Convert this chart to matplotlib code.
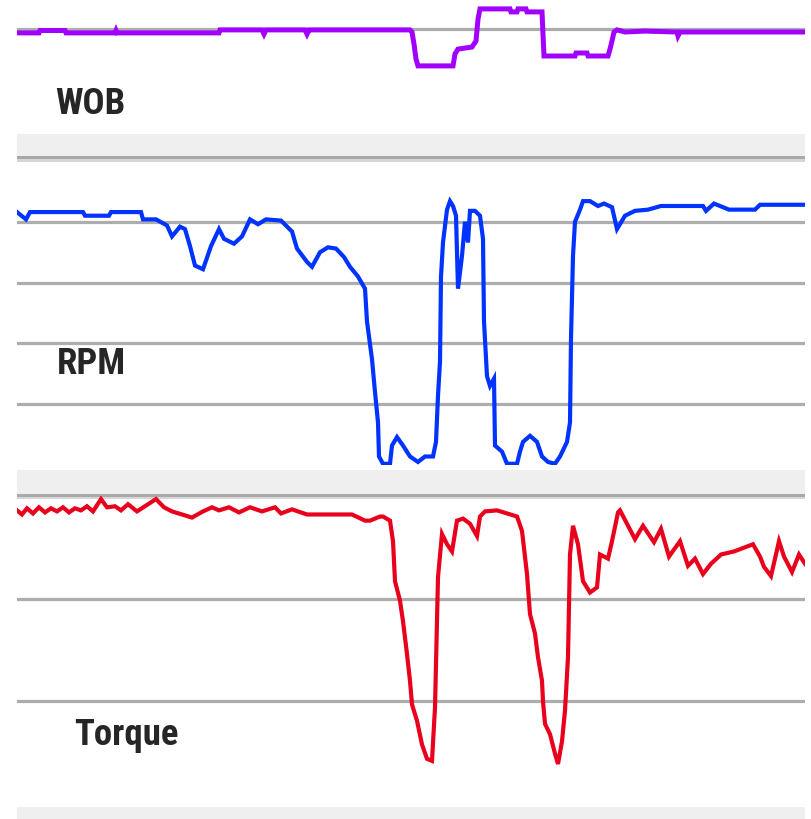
import matplotlib
matplotlib.use("Agg")
import matplotlib.pyplot as plt
from matplotlib.patches import Rectangle

# ---------------- data ----------------
panel_labels = ["WOB", "RPM", "Torque"]

# time in seconds
wob_t = [0, 22, 23, 48, 49, 50, 98, 99, 100, 202, 203, 245, 247, 249, 253, 288, 290, 292, 294,
         393, 395, 397, 399, 401, 436, 438, 441, 455, 459, 461, 463, 493, 494, 500, 501, 509, 510,
         525, 527, 558, 559, 570, 571, 591, 593, 595, 597, 600, 608, 628, 660, 661, 663, 788]
wob_v = [33.7, 33.7, 34.5, 34.5, 33.7, 33.7, 33.7, 34.5, 33.7, 33.7, 34.7, 34.7, 33.3, 34.7, 34.7,
         34.7, 33.3, 34.7, 34.7, 34.7, 34.0, 30.0, 25.0, 22.7, 22.7, 26.7, 28.3, 29.0, 31.0, 38.3,
         41.7, 41.7, 40.7, 40.7, 41.7, 41.7, 40.7, 40.7, 26.0, 26.0, 27.0, 27.0, 26.0, 26.0, 28.3,
         31.0, 34.0, 34.7, 34.0, 34.3, 34.0, 32.7, 34.0, 34.0]

rpm_t = [0, 9, 13, 66, 68, 92, 94, 124, 126, 139, 150, 155, 163, 168, 173, 178, 186, 194, 202, 207,
         217, 225, 233, 241, 249, 264, 275, 280, 290, 295, 303, 311, 319, 327, 333, 341, 348, 350,
         355, 358, 361, 362, 366, 373, 375, 380, 386, 393, 401, 408, 416, 419, 421, 423, 424, 426,
         430, 433, 436, 439, 441, 445, 448, 451, 453, 458, 463, 466, 467, 470, 473, 477, 478, 485,
         490, 500, 503, 506, 513, 520, 525, 531, 538, 543, 550, 553, 554, 556, 558, 563, 566, 573,
         581, 587, 595, 600, 608, 618, 631, 644, 686, 689, 697, 712, 738, 743, 788]
rpm_v = [208, 202, 208, 208, 205, 205, 208, 208, 202, 202, 197, 188, 196, 194, 180, 164, 161, 180,
         194, 186, 182, 188, 202, 198, 202, 201, 192, 178, 167, 163, 175, 179, 178, 171, 163, 155,
         145, 118, 87, 60, 35, 7, 1, 1, 16, 23, 16, 7, 2.5, 7, 7, 19, 57, 85, 155, 183, 210, 217,
         213, 205, 145, 172, 200, 183, 209, 209, 205, 186, 118, 73, 65, 71, 16, 11, 1, 1, 11, 19,
         24, 19, 7, 2.5, 1, 7, 19, 35, 104, 172, 200, 210, 217, 217, 213, 215, 212, 194, 205, 209,
         210, 213, 213, 209, 215, 210, 210, 214, 214]

tq_t = [0, 5, 10, 16, 22, 28, 34, 40, 46, 52, 58, 64, 70, 76, 84, 90, 98, 104, 111, 120, 139, 147,
        155, 165, 175, 186, 195, 202, 212, 222, 233, 245, 258, 264, 275, 290, 306, 320, 335, 348,
        353, 363, 366, 373, 376, 378, 383, 386, 390, 393, 395, 400, 405, 410, 415, 418, 421, 425,
        430, 435, 440, 446, 453, 460, 463, 468, 480, 500, 505, 510, 513, 518, 521, 525, 526, 528,
        533, 538, 541, 545, 548, 551, 553, 556, 561, 566, 573, 580, 583, 591, 595, 601, 603, 618,
        626, 637, 644, 652, 663, 671, 678, 686, 694, 704, 717, 736, 743, 747, 754, 762, 767, 775,
        782, 788]
tq_v = [28.6, 28.2, 28.8, 28.3, 28.9, 28.4, 28.8, 28.5, 28.9, 28.4, 28.8, 28.6, 29.0, 28.5, 29.7,
        28.9, 29.0, 28.6, 29.2, 28.5, 29.7, 28.9, 28.5, 28.2, 27.9, 28.5, 28.9, 28.6, 28.9, 28.4,
        28.9, 28.5, 28.9, 28.3, 28.7, 28.2, 28.2, 28.2, 28.2, 27.6, 27.6, 28.0, 28.0, 27.6, 25.6,
        21.7, 19.8, 17.8, 14.6, 12.0, 9.7, 8.1, 5.8, 4.4, 4.2, 9.4, 22.1, 26.3, 25.3, 24.6, 27.6,
        27.8, 27.3, 26.1, 28.0, 28.5, 28.6, 28.0, 26.6, 22.4, 18.5, 16.6, 14.3, 12.0, 10.0, 7.8,
        6.8, 4.9, 3.9, 6.1, 9.1, 14.3, 24.3, 27.1, 25.3, 21.7, 20.6, 21.1, 24.3, 23.9, 25.6, 28.4,
        28.6, 25.8, 27.1, 25.5, 26.8, 24.1, 25.6, 23.2, 23.9, 22.4, 23.4, 24.3, 24.6, 25.3, 24.1,
        23.1, 22.2, 25.6, 24.1, 22.6, 24.3, 23.4]

wob_grid = [35]
rpm_grid = [50, 100, 150, 200]
tq_grid = [10, 20]
wob_lim = (0, 45)
rpm_lim = (0, 250)
tq_lim = (0, 30)
t_lim = (0, 788)

# ---------------- figure ----------------
W, H = 811, 820
fig = plt.figure(figsize=(W / 100, H / 100), dpi=100)
fig.patch.set_facecolor("white")

L, R = 17, 805


def fy(p):
    return 1 - p / H


def make_ax(top, bottom):
    ax = fig.add_axes([L / W, fy(bottom), (R - L) / W, (bottom - top) / H])
    ax.set_facecolor("none")
    for s in ax.spines.values():
        s.set_visible(False)
    ax.set_xticks([])
    ax.set_yticks([])
    ax.set_xlim(*t_lim)
    return ax


def band(p0, p1, color):
    fig.add_artist(Rectangle((L / W, fy(p1)), (R - L) / W, (p1 - p0) / H,
                             transform=fig.transFigure, facecolor=color,
                             edgecolor="none", zorder=0))


# separator bands
band(135, 157, "#efefef")
band(157, 160, "#a9a9a9")
band(160, 163, "#d6d6d6")
band(471, 495, "#efefef")
band(495, 498, "#a9a9a9")
band(498, 500, "#d6d6d6")
band(808, 820, "#efefef")

grid_kw = dict(color="#adadad", lw=2.3, zorder=1)
line_kw = dict(lw=3.0, solid_joinstyle="miter", zorder=3)

ax1 = make_ax(0, 135)
ax1.set_ylim(*wob_lim)
for g in wob_grid:
    ax1.axhline(g, **grid_kw)
ax1.plot(wob_t, wob_v, color="#a100ff", **{**line_kw, "lw": 3.6})

ax2 = make_ax(162, 466)
ax2.set_ylim(*rpm_lim)
for g in rpm_grid:
    ax2.axhline(g, **grid_kw)
ax2.plot(rpm_t, rpm_v, color="#0033ff", **line_kw)

ax3 = make_ax(497, 805)
ax3.set_ylim(*tq_lim)
for g in tq_grid:
    ax3.axhline(g, **grid_kw)
ax3.plot(tq_t, tq_v, color="#e8001c", **line_kw)

label_fam = ["Roboto Condensed", "Liberation Sans", "DejaVu Sans"]
label_pos = [(55, 114), (57, 374), (74, 745)]
for txt, (px, py) in zip(panel_labels, label_pos):
    fig.text(px / W, fy(py), txt, fontsize=26.5, fontweight="bold",
             family=label_fam, color="#262626", ha="left", va="baseline")

fig.savefig("out.png", dpi=100, facecolor="white")
